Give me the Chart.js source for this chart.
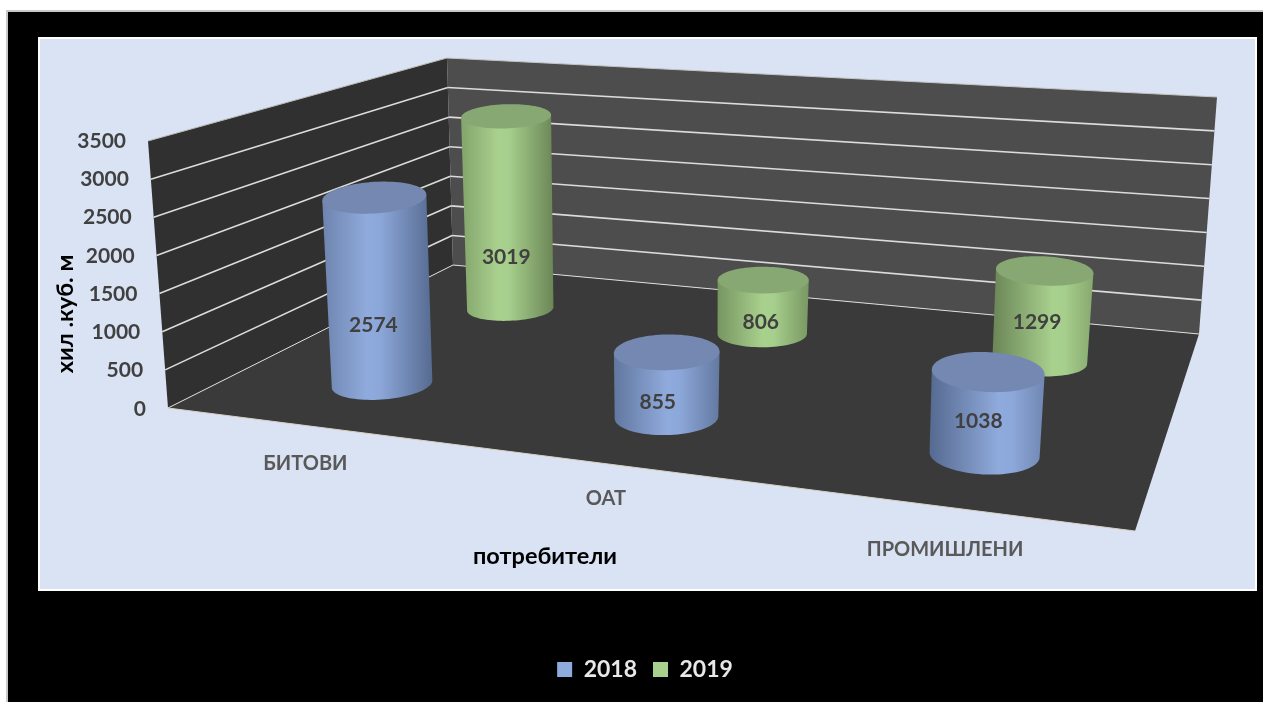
<!DOCTYPE html>
<html lang="bg">
<head>
    <meta charset="UTF-8">
    <title>Потребители</title>
    <script src="https://cdn.jsdelivr.net/npm/chart.js"></script>
    <style>
        html, body { margin: 0; padding: 0; background: #fff; overflow: hidden; }
        canvas { display: block; }
    </style>
</head>
<body>
    <canvas id="chart" width="1263" height="702"></canvas>
    <script>
        // data
        var categories = ['БИТОВИ', 'ОАТ', 'ПРОМИШЛЕНИ'];
        var seriesNames = ['2018', '2019'];
        var values2018 = [2574, 855, 1038];
        var values2019 = [3019, 806, 1299];
        var yMax = 3500;
        var yStep = 500;
        var xTitle = 'потребители';
        var yTitle = 'хил .куб. м';

        // look of the 3D scene
        var FONT = 'Lato, "Open Sans", sans-serif';
        var floorCorners = { fl: [168, 408], fr: [1135, 531], br: [1199, 334], bl: [453, 265] };
        var wallHeights = { fl: [-20, -267], fr: [18, -308], br: [18, -237], bl: [-6, -207] };
        var seriesDepth = [0.23, 0.73];
        var depthRadius = 0.088;
        var widthShift = 0.004;
        var seriesFill = [[143, 170, 220], [169, 209, 142]];
        var seriesEdge = [[80, 100, 136], [100, 126, 80]];
        var seriesTop = ['#7488b2', '#87a873'];
        var labelNudge = [[[-5, 37], [-9, 19], [-8, 10]], [[-2, 47], [-2, 16], [-5, 7]]];
        var catNudge = [[-1, 38], [-2, 35], [-3, 42]];

        function mix(a, b, t) {
            return 'rgb(' + a.map(function (c, i) { return Math.round(c + (b[i] - c) * t); }).join(',') + ')';
        }

        // homography unit square -> floor quad
        function makeFloor(c) {
            var dx1 = c.fr[0] - c.br[0], dx2 = c.bl[0] - c.br[0], sx = c.fl[0] - c.fr[0] + c.br[0] - c.bl[0];
            var dy1 = c.fr[1] - c.br[1], dy2 = c.bl[1] - c.br[1], sy = c.fl[1] - c.fr[1] + c.br[1] - c.bl[1];
            var den = dx1 * dy2 - dx2 * dy1;
            var g = (sx * dy2 - dx2 * sy) / den, h = (dx1 * sy - sx * dy1) / den;
            return function (u, v) {
                var w = g * u + h * v + 1;
                return [
                    ((c.fr[0] - c.fl[0] + g * c.fr[0]) * u + (c.bl[0] - c.fl[0] + h * c.bl[0]) * v + c.fl[0]) / w,
                    ((c.fr[1] - c.fl[1] + g * c.fr[1]) * u + (c.bl[1] - c.fl[1] + h * c.bl[1]) * v + c.fl[1]) / w
                ];
            };
        }
        var floorAt = makeFloor(floorCorners);

        // height vector at a floor point for share f of the y axis
        function lift(u, v, f) {
            var q = wallHeights;
            var a = (1 - u) * (1 - v), b = u * (1 - v), c = u * v, d = (1 - u) * v;
            return [
                f * (a * q.fl[0] + b * q.fr[0] + c * q.br[0] + d * q.bl[0]),
                f * (a * q.fl[1] + b * q.fr[1] + c * q.br[1] + d * q.bl[1])
            ];
        }

        function scene(u, v, f) {
            var p = floorAt(u, v), l = lift(u, v, f);
            return [p[0] + l[0], p[1] + l[1]];
        }

        function poly(ctx, pts, fill) {
            ctx.beginPath();
            pts.forEach(function (p, i) { i ? ctx.lineTo(p[0], p[1]) : ctx.moveTo(p[0], p[1]); });
            ctx.closePath();
            ctx.fillStyle = fill;
            ctx.fill();
        }

        function seg(ctx, a, b, color, width) {
            ctx.beginPath();
            ctx.moveTo(a[0], a[1]);
            ctx.lineTo(b[0], b[1]);
            ctx.strokeStyle = color;
            ctx.lineWidth = width;
            ctx.stroke();
        }

        // circle on the floor, raised as one piece so the top keeps the shape of the base
        function ring(u, v, ru, rv, f) {
            var pts = [], l = lift(u, v, f * 0.975);
            var wide = ru * (f > 0 ? 1.01 + 0.05 * f : 1);
            for (var i = 0; i < 90; i++) {
                var t = Math.PI + i / 90 * 2 * Math.PI;
                var p = floorAt(u + wide * Math.cos(t), v + rv * Math.sin(t));
                pts.push([p[0] + l[0], p[1] + l[1]]);
            }
            return pts;
        }

        function drawCylinder(ctx, u, v, ru, f, s) {
            var low = ring(u, v, ru, depthRadius, 0), top = ring(u, v, ru, depthRadius, f);
            function ends(r) {
                var l = 0, h = 0;
                r.forEach(function (p, i) { if (p[0] < r[l][0]) l = i; if (p[0] > r[h][0]) h = i; });
                return [l, h];
            }
            var eb = ends(low), et = ends(top);
            var path = [top[et[0]]];
            for (var i = eb[0]; i !== eb[1]; i = (i + 1) % low.length) path.push(low[i]);
            path.push(low[eb[1]], top[et[1]]);
            var xs = path.map(function (p) { return p[0]; });
            var x0 = Math.min.apply(null, xs), x1 = Math.max.apply(null, xs);
            var grad = ctx.createLinearGradient(x0, 0, x1, 0);
            var mid = 0.35 + 0.3 * u;
            // light falls from the middle of the chart: outer side stays lighter
            grad.addColorStop(0, mix(seriesFill[s], seriesEdge[s], 0.45 + 0.55 * u));
            grad.addColorStop(mid, mix(seriesFill[s], seriesEdge[s], 0));
            grad.addColorStop(Math.min(mid + 0.12, 0.9), mix(seriesFill[s], seriesEdge[s], 0.04));
            grad.addColorStop(1, mix(seriesFill[s], seriesEdge[s], 1 - 0.6 * u));
            poly(ctx, path, grad);
            poly(ctx, top, seriesTop[s]);
        }

        var scenePlugin = {
            id: 'scene',
            beforeDraw: function (chart) {
                var ctx = chart.ctx, y = chart.scales.y;
                // frame and panel
                ctx.fillStyle = '#c8c8c8';
                ctx.fillRect(6, 10, 1257, 692);
                ctx.fillStyle = '#000';
                ctx.fillRect(8, 12, 1255, 690);
                ctx.fillStyle = '#fff';
                ctx.fillRect(38, 37, 1219, 554);
                ctx.fillStyle = '#dae3f3';
                ctx.fillRect(40, 39, 1215, 550);
                // walls and floor
                poly(ctx, [scene(0, 0, 0), scene(0, 0, 1), scene(0, 1, 1), scene(0, 1, 0)], '#303030');
                poly(ctx, [scene(0, 1, 0), scene(0, 1, 1), scene(1, 1, 1), scene(1, 1, 0)], '#4d4d4d');
                poly(ctx, [scene(0, 0, 0), scene(1, 0, 0), scene(1, 1, 0), scene(0, 1, 0)], '#3a3a3a');
                seg(ctx, scene(0, 0, 1), scene(0, 1, 1), '#b9b9b4', 1);
                seg(ctx, scene(0, 1, 1), scene(1, 1, 1), '#c4c4c4', 1);
                seg(ctx, scene(0, 0, 0), scene(1, 0, 0), '#d8d0c4', 1);
                // gridlines follow the y axis ticks
                y.ticks.forEach(function (t) {
                    var f = (y.bottom - y.getPixelForValue(t.value)) / y.height;
                    if (f >= 1) return;
                    seg(ctx, scene(0, 0, f), scene(0, 1, f), '#dcdcd8', f > 0 ? 1.6 : 1);
                    seg(ctx, scene(0, 1, f), scene(1, 1, f), '#dcdcdc', f > 0 ? 1.6 : 1);
                });
            },
            beforeDatasetsDraw: function (chart) {
                var ctx = chart.ctx, area = chart.chartArea;
                var i, s;
                var labels = [];
                for (s = chart.data.datasets.length - 1; s >= 0; s--) {
                    var bars = chart.getDatasetMeta(s).data;
                    for (i = 0; i < bars.length; i++) {
                        var u = (bars[i].x - area.left) / area.width + widthShift;
                        var f = (bars[i].base - bars[i].y) / area.height;
                        var ru = bars[i].width / area.width / 2;
                        drawCylinder(ctx, u, seriesDepth[s], ru, f, s);
                        var c = scene(u, seriesDepth[s], f / 2);
                        labels.push([chart.data.datasets[s].data[i], c[0] + labelNudge[s][i][0], c[1] + labelNudge[s][i][1]]);
                    }
                }
                ctx.font = 'bold 21px ' + FONT;
                ctx.fillStyle = '#404040';
                ctx.textAlign = 'center';
                ctx.textBaseline = 'middle';
                labels.forEach(function (l) { ctx.fillText(String(l[0]), l[1], l[2]); });
                return false;
            },
            afterDraw: function (chart) {
                var ctx = chart.ctx, y = chart.scales.y, x = chart.scales.x, area = chart.chartArea;
                ctx.textBaseline = 'middle';
                // y tick labels lean with the front edge of the wall
                ctx.font = 'bold 21px ' + FONT;
                ctx.fillStyle = '#404040';
                ctx.textAlign = 'right';
                y.ticks.forEach(function (t) {
                    var f = (y.bottom - y.getPixelForValue(t.value)) / y.height;
                    var p = scene(0, 0, f);
                    ctx.fillText(t.label, p[0] - 22, y.getPixelForValue(t.value));
                });
                // category labels sit under the front edge of the floor
                ctx.font = 'bold 20px ' + FONT;
                ctx.fillStyle = '#595959';
                ctx.textAlign = 'center';
                categories.forEach(function (name, i) {
                    var u = (x.getPixelForValue(i) - area.left) / area.width;
                    var p = scene(u, 0, 0);
                    ctx.fillText(name, p[0] + catNudge[i][0], p[1] + catNudge[i][1]);
                });
                // axis titles
                ctx.font = 'bold 23.5px ' + FONT;
                ctx.fillStyle = '#000';
                ctx.fillText(xTitle, 545, 556);
                ctx.save();
                ctx.translate(65, 314);
                ctx.rotate(-Math.PI / 2);
                ctx.fillText(yTitle, 0, 0);
                ctx.restore();
            }
        };

        new Chart(document.getElementById('chart'), {
            type: 'bar',
            plugins: [scenePlugin],
            data: {
                labels: categories,
                datasets: [
                    { label: seriesNames[0], data: values2018, backgroundColor: mix(seriesFill[0], seriesFill[0], 0) },
                    { label: seriesNames[1], data: values2019, backgroundColor: mix(seriesFill[1], seriesFill[1], 0) }
                ]
            },
            options: {
                responsive: false,
                animation: false,
                grouped: false,
                categoryPercentage: 1,
                barPercentage: 0.32,
                layout: { padding: { left: 27, right: 0, top: 141, bottom: 11 } },
                scales: {
                    x: {
                        grid: { display: false },
                        border: { display: false },
                        ticks: { display: false },
                        afterFit: function (s) { s.height = 233; }
                    },
                    y: {
                        min: 0,
                        max: yMax,
                        grid: { display: false },
                        border: { display: false },
                        ticks: {
                            stepSize: yStep,
                            color: 'rgba(0,0,0,0)',
                            callback: function (v) { return String(v); }
                        },
                        afterFit: function (s) { s.width = 141; }
                    }
                },
                plugins: {
                    tooltip: { enabled: false },
                    legend: {
                        position: 'bottom',
                        labels: {
                            boxWidth: 15,
                            boxHeight: 15,
                            padding: 16,
                            color: '#e8e8e8',
                            font: { family: FONT, size: 23, weight: 'bold' }
                        }
                    }
                }
            }
        });
    </script>
</body>
</html>
